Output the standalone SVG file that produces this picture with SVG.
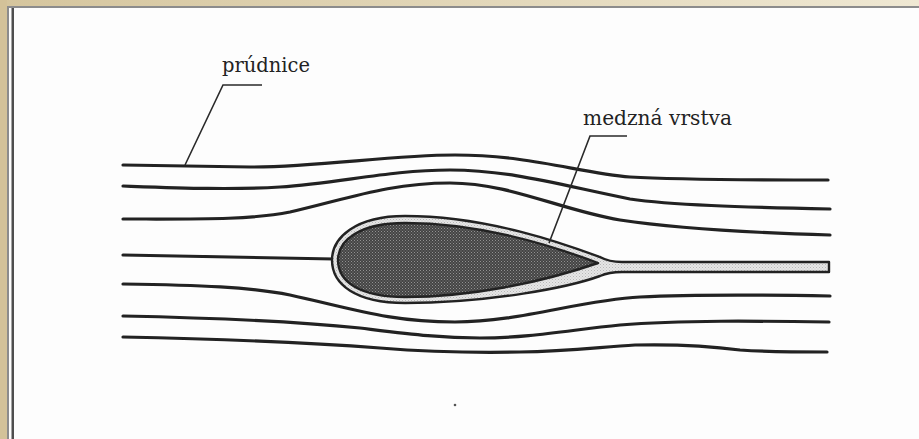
<svg xmlns="http://www.w3.org/2000/svg" width="919" height="439" viewBox="0 0 919 439">
  <defs>
    <linearGradient id="topBand" x1="0" y1="0" x2="1" y2="0">
      <stop offset="0" stop-color="#d5c59d"/>
      <stop offset="1" stop-color="#efe8d3"/>
    </linearGradient>
    <!-- halftone stipple for the solid body -->
    <pattern id="darkDots" width="3" height="3" patternUnits="userSpaceOnUse">
      <rect width="3" height="3" fill="#444"/>
      <rect x="0" y="0" width="1" height="1" fill="#929292"/>
      <rect x="1.5" y="1.5" width="1" height="1" fill="#828282"/>
    </pattern>
    <!-- lighter stipple for the boundary layer -->
    <pattern id="lightDots" width="3" height="3" patternUnits="userSpaceOnUse">
      <rect width="3" height="3" fill="#e6e6e6"/>
      <rect x="0" y="0" width="1" height="1" fill="#b8b8b8"/>
      <rect x="1.5" y="1.5" width="1" height="1" fill="#c4c4c4"/>
    </pattern>
  </defs>
  <style>
    .stream { fill: none; stroke: #222; stroke-width: 3.2; stroke-linecap: round; stroke-linejoin: round; }
    .leader { fill: none; stroke: #2a2a2a; stroke-width: 1.6; }
    .label { font-family: "DejaVu Serif", "Liberation Serif", serif; font-size: 20px; fill: #222; }
    .outline { stroke: #222; stroke-width: 2.4; stroke-linejoin: round; }
  </style>

  <!-- page and frame -->
  <rect width="919" height="439" fill="#fdfdfd"/>
  <rect x="0" y="0" width="919" height="7" fill="url(#topBand)"/>
  <rect x="0" y="0" width="7" height="439" fill="#d3c299"/>
  <rect x="7" y="6" width="912" height="2" fill="#8c8c8c"/>
  <rect x="7" y="6" width="2" height="433" fill="#8c8c8c"/>
  <rect x="11.5" y="8" width="2.5" height="431" fill="#4e4e4e"/>

  <!-- streamlines -->
  <g id="streamlines">
    <path class="stream" d="M123,165 L250,167 C320,167 390,155 455,155 C530,155 580,173 630,177 C680,180 760,180 828,180"/>
    <path class="stream" d="M123,186 C180,188 230,190 280,187 C340,183 390,170 450,170 C510,170 560,185 630,199 C670,205 740,207 830,209"/>
    <path class="stream" d="M123,219 C200,219 250,220 290,212 C350,198 390,183 450,183 C510,183 560,210 620,220 C680,229 760,233 830,235"/>
    <path class="stream" d="M123,255 L334,259"/>
    <path class="stream" d="M123,284 C200,285 250,287 290,295 C350,308 390,322 455,322 C520,322 580,300 640,297 C700,294 770,295 830,296"/>
    <path class="stream" d="M123,316 C220,318 300,322 360,328 C410,334 440,338 480,338 C530,338 570,330 620,325 C680,320 760,321 829,322"/>
    <path class="stream" d="M123,337 C220,339 300,342 380,348 C430,352 470,353 520,352 C570,351 600,347 635,345 C680,344 710,346 740,350 C770,352 800,352 827,352"/>
  </g>

  <!-- boundary layer with wake strip -->
  <g id="boundary-layer">
    <path class="outline" fill="url(#lightDots)" d="M332,260 C332,238 355,216 405,216 C490,216 570,246 600,257 Q609,262 622,262 L829,262 L829,272 L622,272 Q609,272 600,276 C570,287 490,303 405,303 C355,303 332,284 332,260 Z"/>
  </g>

  <!-- solid body -->
  <g id="body">
    <path class="outline" fill="url(#darkDots)" d="M598,263 C540,241 470,223 405,223 C360,223 338,240 338,260 C338,282 360,297 405,297 C470,297 540,283 598,263 Z"/>
  </g>

  <!-- labels with leaders -->
  <g id="label-prudnice">
    <polyline class="leader" points="185,165 223,85 262,85"/>
    <text class="label" x="222" y="72" textLength="88" lengthAdjust="spacingAndGlyphs">prúdnice</text>
  </g>
  <g id="label-medzna-vrstva">
    <polyline class="leader" points="549,243 590,136 627,136"/>
    <text class="label" x="583" y="125" textLength="149" lengthAdjust="spacingAndGlyphs">medzná vrstva</text>
  </g>

  <circle cx="455" cy="405" r="1.3" fill="#555"/>
</svg>
